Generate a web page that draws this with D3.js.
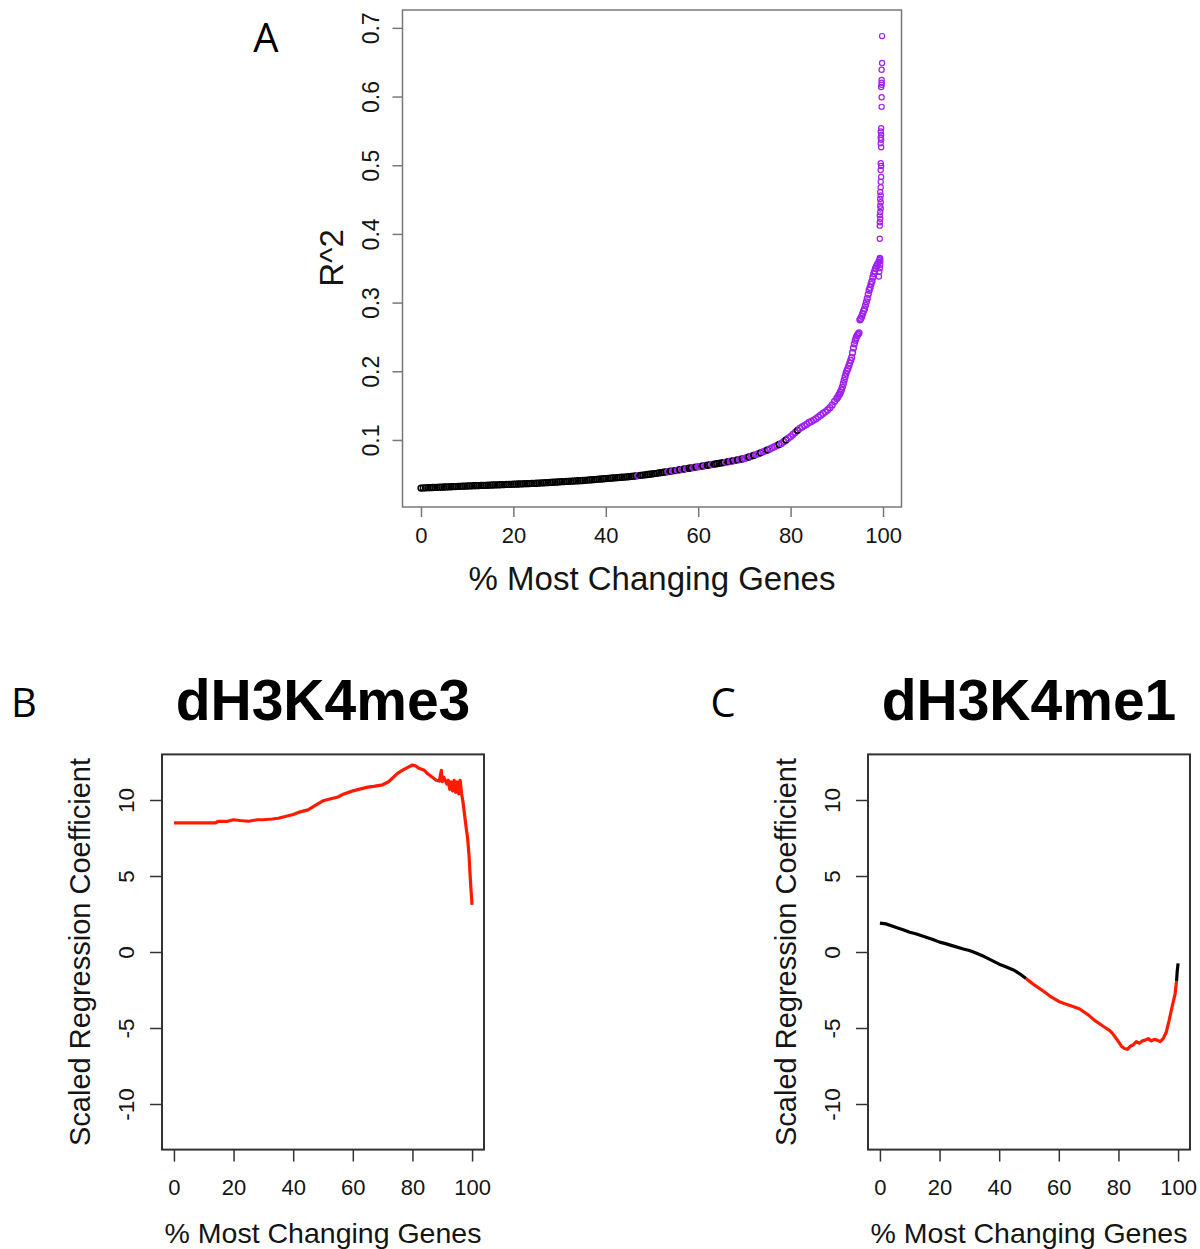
<!DOCTYPE html>
<html>
<head>
<meta charset="utf-8">
<script src="https://cdn.jsdelivr.net/npm/d3@7"></script>
<style>
  body { margin: 0; background: #fff; }
</style>
</head>
<body>
<svg id="fig" width="1200" height="1249"></svg>
<script>
"use strict";

// ---------- panel A data: R^2 vs % most changing genes ----------
// regular part of the curve, 0 .. 89.5 every half percent
const pctA = [
  0,0.5,1,1.5,2,2.5,3,3.5,4,4.5, 5,5.5,6,6.5,7,7.5,8,8.5,9,9.5,
  10,10.5,11,11.5,12,12.5,13,13.5,14,14.5, 15,15.5,16,16.5,17,17.5,18,18.5,19,19.5,
  20,20.5,21,21.5,22,22.5,23,23.5,24,24.5, 25,25.5,26,26.5,27,27.5,28,28.5,29,29.5,
  30,30.5,31,31.5,32,32.5,33,33.5,34,34.5, 35,35.5,36,36.5,37,37.5,38,38.5,39,39.5,
  40,40.5,41,41.5,42,42.5,43,43.5,44,44.5, 45,45.5,46,46.5,47,47.5,48,48.5,49,49.5,
  50,50.5,51,51.5,52,52.5,53,53.5,54,54.5, 55,55.5,56,56.5,57,57.5,58,58.5,59,59.5,
  60,60.5,61,61.5,62,62.5,63,63.5,64,64.5, 65,65.5,66,66.5,67,67.5,68,68.5,69,69.5,
  70,70.5,71,71.5,72,72.5,73,73.5,74,74.5, 75,75.5,76,76.5,77,77.5,78,78.5,79,79.5,
  80,80.5,81,81.5,82,82.5,83,83.5,84,84.5, 85,85.5,86,86.5,87,87.5,88,88.5,89,89.5,
  // steep part
  90,90.2,90.4,90.6,90.8,91,91.2,91.4,91.6,91.8, 92,92.2,92.4,92.6,92.8,93,93.2,93.4,93.6,93.8,
  94,94.2,94.4,94.6,94.8,95,95.2,95.4,95.6,95.8, 96,96.2,96.4,96.6,96.8,97,97.2,97.4,97.6,97.8,
  98,98.2,98.4,98.6,98.8,99,99.2,99.4,
  // scatter at the very top end
  99.1,99.2,99.3,99.4,99.3,99.4,
  99.3,99.3,99.3,99.4,99.3,99.4,99.5,99.4,99.5,99.4,99.5,99.4,99.5,99.5,99.6,99.5,99.6,99.5,
  99.6,99.5,99.6,99.5,99.6,99.5,99.6,99.7,99.7,99.6,99.7,99.7,99.7,99.7,99.8,99.8
];
const r2A = [
  .0300,.0302,.0303,.0305,.0306,.0308,.0309,.0310,.0312,.0313, .0315,.0316,.0318,.0319,.0321,.0322,.0324,.0325,.0327,.0328,
  .0330,.0331,.0333,.0334,.0335,.0336,.0338,.0339,.0340,.0341, .0343,.0344,.0345,.0347,.0348,.0349,.0350,.0352,.0353,.0354,
  .0356,.0357,.0359,.0360,.0361,.0363,.0364,.0365,.0367,.0368, .0370,.0372,.0374,.0376,.0378,.0380,.0382,.0384,.0386,.0388,
  .0390,.0392,.0394,.0396,.0398,.0400,.0402,.0404,.0406,.0408, .0410,.0413,.0416,.0418,.0421,.0424,.0427,.0430,.0432,.0435,
  .0438,.0441,.0443,.0446,.0449,.0451,.0454,.0457,.0459,.0462, .0465,.0469,.0473,.0477,.0481,.0485,.0489,.0493,.0497,.0501,
  .0505,.0510,.0515,.0520,.0525,.0530,.0535,.0540,.0545,.0550, .0555,.0561,.0566,.0572,.0577,.0583,.0588,.0594,.0599,.0605,
  .0610,.0616,.0621,.0627,.0632,.0638,.0643,.0649,.0654,.0660, .0665,.0671,.0678,.0684,.0691,.0697,.0704,.0710,.0717,.0723,
  .0730,.0741,.0752,.0763,.0775,.0788,.0800,.0813,.0828,.0842, .0855,.0870,.0885,.0902,.0918,.0934,.0950,.0975,.1000,.1025,
  .1050,.1080,.1110,.1140,.1170,.1190,.1210,.1230,.1255,.1270, .1290,.1310,.1335,.1360,.1385,.1410,.1436,.1470,.1510,.1560,
  .1605,.1625,.1650,.1670,.1700,.1730,.1770,.1820,.1870,.1920, .1970,.2010,.2040,.2080,.2120,.2160,.2200,.2270,.2340,.2400,
  .2450,.2490,.2520,.2540,.2560,.2750,.2770,.2800,.2840,.2880, .2910,.2960,.3010,.3060,.3120,.3180,.3220,.3270,.3310,.3370,
  .3420,.3460,.3500,.3530,.3560,.3590,.3620,.3640,
  .338,.345,.350,.355,.365,.360,
  .393,.412,.417,.422,.427,.432,.437,.441,.446,.451,.456,.461,.468,.476,.483,.493,.499,.503,
  .526,.532,.537,.540,.544,.549,.554,.585,.599,.614,.617,.620,.624,.639,.649,.688,.701
];
// which points are coloured purple (significant): mixed region only
const purpleBelow70 = [47, 53.5, 54.5, 55.5, 56.5, 57.5, 59, 60, 60.5, 61.5, 63, 66, 67, 68, 69];
const blackAbove70 = [71, 72, 73.5, 75, 77.5, 79, 81.5];

const ticksA_x = [0, 20, 40, 60, 80, 100];
const ticksA_y = [0.1, 0.2, 0.3, 0.4, 0.5, 0.6, 0.7];

// ---------- panel B data: dH3K4me3 coefficient ----------
const pctB = [0,5,10,14,15,18,20,22,25,28,30,33,35,38,40,42,45,47,50,52,55,57,60,62,65,67,70,72,75,77,
  80,81,82,84,85,87,88,89,89.7,90,90.5,91,91.5,92,92.5,93,93.5,94,94.5,95,95.5,96,96.5,97,97.5,98,98.5,99,99.3,99.6,100];
const coefB = [8.5,8.5,8.5,8.5,8.6,8.6,8.7,8.65,8.6,8.7,8.7,8.75,8.8,8.95,9.05,9.2,9.35,9.6,9.95,10.05,10.2,10.4,10.6,10.7,10.85,10.9,11.0,11.2,11.75,12.0,
  12.3,12.25,12.1,11.95,11.75,11.45,11.3,11.25,11.95,11.2,11.5,11.3,11.05,11.3,10.7,11.2,10.6,11.3,10.5,11.2,10.4,11.3,10.4,9.8,9.0,8.2,7.5,6.3,5.2,4.2,3.1];

// ---------- panel C data: dH3K4me1 coefficient ----------
const pctC = [0,2,5,8,10,12,15,18,20,22,25,28,30,32,35,38,40,42,45,47,49,50,52,55,57,60,62,65,67,70,72,75,77,78,
  80,81,82,83,84,85,86,87,88,89,90,91,92,93,94,95,96,97,98,99,99.5,99.7,100];
const coefC = [1.9,1.85,1.65,1.45,1.3,1.2,1.0,0.8,0.65,0.55,0.37,0.2,0.1,-0.05,-0.3,-0.6,-0.8,-0.95,-1.2,-1.45,-1.75,-1.9,-2.2,-2.6,-2.9,-3.25,-3.4,-3.6,-3.75,-4.15,-4.5,-4.9,-5.15,-5.35,
  -5.9,-6.2,-6.35,-6.4,-6.2,-6.1,-5.9,-6.0,-5.85,-5.8,-5.7,-5.85,-5.75,-5.8,-5.9,-5.7,-5.3,-4.5,-3.6,-2.75,-1.9,-1.3,-0.75];
// 1 = significant (red), 0 = not (black)
const sigC = [0,0,0,0,0,0,0,0,0,0,0,0,0,0,0,0,0,0,0,0,0,1,1,1,1,1,1,1,1,1,1,1,1,1,
  1,1,1,1,1,1,1,1,1,1,1,1,1,1,1,1,1,1,1,1,1,0,0];

const ticksBC_x = [0, 20, 40, 60, 80, 100];
const ticksBC_y = [-10, -5, 0, 5, 10];

// ---------- drawing ----------
const FONT = '"Liberation Sans", Arial, Helvetica, sans-serif';
const LETTER_FONT = '"Open Sans", "Liberation Sans", sans-serif';
const PURPLE = "#A020F0";
const svg = d3.select("#fig");

// R prints negative numbers with a plain hyphen
const plainNum = d => String(d);

// style an axis that was just drawn by d3
function styleAxis(g, color, size) {
  g.select(".domain").remove();
  g.selectAll(".tick line").attr("stroke", color).attr("stroke-width", 1.5);
  g.selectAll(".tick text")
    .attr("fill", "#151515")
    .style("font-family", FONT)
    .style("font-size", size + "px");
}

function bottomAxis(x, yPos, ticks, color, size, tickLen, labelY) {
  const g = svg.append("g")
    .attr("transform", "translate(0," + yPos + ")")
    .call(d3.axisBottom(x).tickValues(ticks).tickSize(tickLen).tickSizeOuter(0).tickFormat(plainNum));
  styleAxis(g, color, size);
  g.selectAll(".tick text").attr("y", labelY).attr("dy", 0);
}

function leftAxis(y, xPos, ticks, color, size, tickLen, labelX, fmt) {
  const g = svg.append("g")
    .attr("transform", "translate(" + xPos + ",0)")
    .call(d3.axisLeft(y).tickValues(ticks).tickSize(tickLen).tickSizeOuter(0).tickFormat(fmt));
  styleAxis(g, color, size);
  // R style: labels parallel to the axis
  g.selectAll(".tick text")
    .attr("x", 0).attr("dy", 0)
    .attr("text-anchor", "middle")
    .attr("transform", "translate(" + (-labelX) + ",0) rotate(-90)");
}

function frame(x, y, color, width) {
  svg.append("rect")
    .attr("x", x.range()[0]).attr("y", y.range()[1])
    .attr("width", x.range()[1] - x.range()[0])
    .attr("height", y.range()[0] - y.range()[1])
    .attr("fill", "none").attr("stroke", color).attr("stroke-width", width);
}

function label(txt, x, y, size, opts) {
  opts = opts || {};
  const t = svg.append("text")
    .attr("x", x).attr("y", y)
    .attr("text-anchor", opts.anchor || "middle")
    .style("font-family", opts.font || FONT)
    .style("font-size", size + "px")
    .style("font-weight", opts.weight || "normal")
    .attr("fill", opts.fill || "#151515")
    .text(txt);
  if (opts.rotate) t.attr("transform", "rotate(-90," + x + "," + y + ")");
  return t;
}

// ===== panel A =====
const xA = d3.scaleLinear().domain([-4, 104]).range([402.5, 901.5]);
const yA = d3.scaleLinear().domain([0.0024, 0.726]).range([507, 10]);

bottomAxis(xA, 507, ticksA_x, "#777", 22, 10, 36);
leftAxis(yA, 402.5, ticksA_y, "#777", 23, 10, 24, d3.format(".1f"));

const pointsA = pctA.map((p, i) => {
  let purple;
  if (p < 47) purple = false;
  else if (p < 70) purple = purpleBelow70.includes(p);
  else if (p < 82) purple = !blackAbove70.includes(p);
  else purple = true;
  return { p: p, r2: r2A[i], purple: purple, dense: p < 99 };
});

svg.append("g")
  .selectAll("circle")
  .data(pointsA)
  .enter()
  .append("circle")
  .attr("cx", d => xA(d.p))
  .attr("cy", d => yA(d.r2))
  .attr("r", d => d.dense ? 2.9 : 2.6)
  .attr("fill", "none")
  .attr("stroke", d => d.purple ? PURPLE : "#000")
  .attr("stroke-width", d => d.dense ? 1.5 : 1.2);

frame(xA, yA, "#777", 1.5);

label("% Most Changing Genes", 652, 590, 33);
label("R^2", 343, 258, 33, { rotate: true });
label("A", 266, 52, 40, { font: LETTER_FONT, fill: "#000" });

// ===== panels B and C =====
function linePanel(x0, x1, pct, coef, sig, title, letter, letterX) {
  const x = d3.scaleLinear().domain([-4, 104]).range([x0, x1]);
  const y = d3.scaleLinear().domain([-13, 13]).range([1149.6, 754.4]);

  bottomAxis(x, 1149.6, ticksBC_x, "#333", 22, 12, 45);
  leftAxis(y, x0, ticksBC_y, "#333", 22.5, 12, 28, plainNum);

  // split the line into runs of the same colour
  const pts = pct.map((p, i) => ({ p: p, c: coef[i], s: sig ? sig[i] : 1 }));
  const runs = [];
  for (let i = 1; i < pts.length; i++) {
    const last = runs[runs.length - 1];
    if (last && last.s === pts[i].s) last.pts.push(pts[i]);
    else runs.push({ s: pts[i].s, pts: [pts[i - 1], pts[i]] });
  }
  const line = d3.line().x(d => x(d.p)).y(d => y(d.c));
  svg.append("g")
    .selectAll("path")
    .data(runs)
    .enter()
    .append("path")
    .attr("d", d => line(d.pts))
    .attr("fill", "none")
    .attr("stroke", d => d.s ? "#FF1A00" : "#000")
    .attr("stroke-width", 3.2)
    .attr("stroke-linejoin", "round");

  frame(x, y, "#333", 2);

  const cx = (x0 + x1) / 2;
  label("% Most Changing Genes", cx, 1243, 28.5);
  label("Scaled Regression Coefficient", x0 - 72, 952, 29, { rotate: true });
  label(title, cx, 720, 57, { weight: "bold", fill: "#000" });
  label(letter, letterX, 717, 40, { font: LETTER_FONT, fill: "#000" });
}

linePanel(162, 484, pctB, coefB, null, "dH3K4me3", "B", 24);
linePanel(868, 1190, pctC, coefC, sigC, "dH3K4me1", "C", 723);
</script>
</body>
</html>
